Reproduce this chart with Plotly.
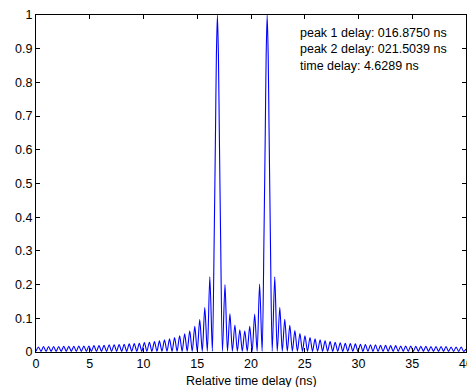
import plotly.graph_objects as go

# ---- data ----
main_x = [16.58, 16.70, 16.78, 16.875, 16.97, 17.05, 17.17,
          21.21, 21.33, 21.41, 21.5039, 21.60, 21.68, 21.80]
main_y = [0.35, 0.66, 0.88, 1.0, 0.88, 0.66, 0.35,
          0.35, 0.66, 0.88, 1.0, 0.88, 0.66, 0.35]

# side-lobe peaks left of peak 1 (from 0 ns upward)
left_x = [0.23, 0.70, 1.17, 1.64, 2.11, 2.58, 3.05, 3.52, 3.98, 4.45, 4.92, 5.39,
          5.86, 6.33, 6.80, 7.27, 7.73, 8.20, 8.67, 9.14, 9.61, 10.08, 10.55, 11.02,
          11.48, 11.95, 12.42, 12.89, 13.36, 13.83, 14.30, 14.77, 15.23, 15.70, 16.17]
left_y = [0.015, 0.016, 0.016, 0.016, 0.016, 0.017, 0.017, 0.017, 0.018, 0.018, 0.018, 0.019,
          0.019, 0.020, 0.021, 0.021, 0.022, 0.023, 0.024, 0.025, 0.026, 0.028, 0.029, 0.031,
          0.033, 0.036, 0.039, 0.043, 0.048, 0.054, 0.063, 0.076, 0.096, 0.132, 0.223]

# side-lobe peaks between the two main peaks
mid_x = [17.58, 18.04, 18.50, 18.96, 19.42, 19.88, 20.34, 20.80]
mid_y = [0.200, 0.113, 0.080, 0.066, 0.063, 0.076, 0.112, 0.202]

# side-lobe peaks right of peak 2
right_x = [22.21, 22.68, 23.14, 23.61, 24.08, 24.55, 25.02, 25.49, 25.96, 26.43, 26.89, 27.36,
           27.83, 28.30, 28.77, 29.24, 29.71, 30.18, 30.64, 31.11, 31.58, 32.05, 32.52, 32.99,
           33.46, 33.93, 34.39, 34.86, 35.33, 35.80, 36.27, 36.74, 37.21, 37.68, 38.14, 38.61,
           39.08, 39.55]
right_y = [0.223, 0.132, 0.097, 0.079, 0.064, 0.055, 0.048, 0.043, 0.039, 0.036, 0.033, 0.031,
           0.029, 0.027, 0.026, 0.025, 0.024, 0.023, 0.022, 0.021, 0.021, 0.020, 0.020, 0.019,
           0.019, 0.018, 0.018, 0.018, 0.017, 0.017, 0.017, 0.016, 0.016, 0.016, 0.016, 0.015,
           0.015, 0.015]

# troughs (nulls) between lobes
null_x = [0.0, 0.469, 0.938, 1.406, 1.875, 2.344, 2.813, 3.281, 3.75, 4.219, 4.688, 5.156,
          5.625, 6.094, 6.563, 7.031, 7.5, 7.969, 8.438, 8.906, 9.375, 9.844, 10.313, 10.781,
          11.25, 11.719, 12.188, 12.656, 13.125, 13.594, 14.063, 14.531, 15.0, 15.469, 15.938,
          16.406,
          17.344, 17.81, 18.27, 18.73, 19.19, 19.65, 20.11, 20.57, 21.035,
          21.973, 22.441, 22.910, 23.379, 23.848, 24.316, 24.785, 25.254, 25.723, 26.191,
          26.660, 27.129, 27.598, 28.066, 28.535, 29.004, 29.473, 29.941, 30.410, 30.879,
          31.348, 31.816, 32.285, 32.754, 33.223, 33.691, 34.160, 34.629, 35.098, 35.566,
          36.035, 36.504, 36.973, 37.441, 37.910, 38.379, 38.848, 39.316, 39.785]
null_y = [0.002] * len(null_x)

end_x = [40.0]
end_y = [0.009]

x_ticks = [0, 5, 10, 15, 20, 25, 30, 35, 40]
y_ticks = [0, 0.1, 0.2, 0.3, 0.4, 0.5, 0.6, 0.7, 0.8, 0.9, 1]
y_tick_text = ["0", "0.1", "0.2", "0.3", "0.4", "0.5", "0.6", "0.7", "0.8", "0.9", "1"]

info_lines = ["peak 1 delay: 016.8750 ns", "peak 2 delay: 021.5039 ns", "time delay: 4.6289 ns"]
x_title = "Relative time delay (ns)"

# merge all vertices in x order
pts = sorted(zip(main_x + left_x + mid_x + right_x + null_x + end_x,
                 main_y + left_y + mid_y + right_y + null_y + end_y))
xs = [p[0] for p in pts]
ys = [p[1] for p in pts]

FONT = "Liberation Sans, Arial, sans-serif"

fig = go.Figure()
fig.add_trace(go.Scatter(x=xs, y=ys, mode="lines",
                         line=dict(color="#0000ff", width=1.1, shape="spline", smoothing=0.8),
                         hoverinfo="skip", showlegend=False))

axis_common = dict(showline=True, linecolor="black", linewidth=1, mirror="ticks",
                   ticks="inside", ticklen=4, tickcolor="black", tickwidth=1,
                   showgrid=False, zeroline=False, automargin=False,
                   ticklabeloverflow="allow",
                   tickfont=dict(family=FONT, size=12.5, color="black"))

fig.update_xaxes(range=[0, 40], tickmode="array", tickvals=x_ticks,
                 ticktext=[str(v) for v in x_ticks], **axis_common)
fig.update_yaxes(range=[0, 1], tickmode="array", tickvals=y_ticks,
                 ticktext=y_tick_text, **axis_common)

ann = []
for i, (txt, yy) in enumerate(zip(info_lines, [33.3, 48.7, 65.7])):
    ann.append(dict(text=txt, xref="paper", yref="paper",
                    x=(298 - 36) / 430, y=1 - (yy - 15) / 337,
                    xanchor="left", yanchor="middle", showarrow=False,
                    font=dict(family=FONT, size=12.5, color="black")))
ann.append(dict(text=x_title, xref="paper", yref="paper", x=0.5, y=-29 / 337,
                xanchor="center", yanchor="middle", showarrow=False,
                font=dict(family=FONT, size=12.5, color="black")))

fig.update_layout(width=467, height=387, margin=dict(l=36, r=1, t=15, b=35),
                  paper_bgcolor="white", plot_bgcolor="white", annotations=ann)

fig.write_html("out.html", config={"displayModeBar": False},
               post_script="document.body.style.margin='0';document.body.style.overflow='hidden';")
